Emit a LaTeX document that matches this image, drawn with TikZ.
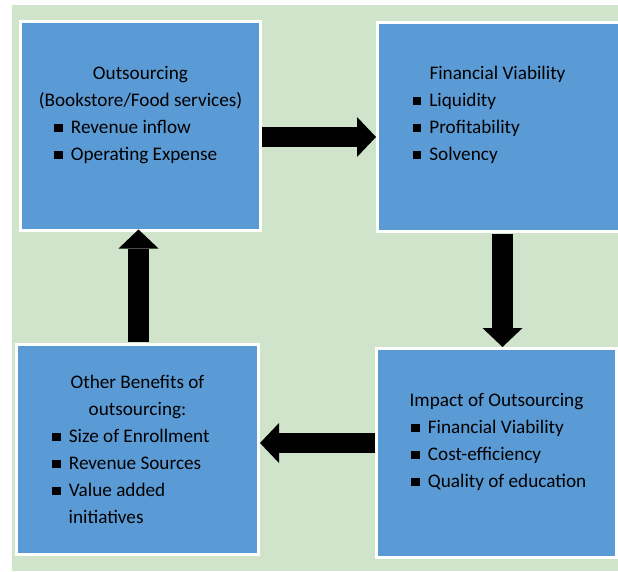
\documentclass[tikz,border=0pt]{standalone}
\usepackage{fontspec}
\setmainfont{Carlito}
\usepackage{xcolor}
\usetikzlibrary{arrows.meta}
\usetikzlibrary{math}

\definecolor{boxblue}{RGB}{91,155,213}
\definecolor{bggreen}{RGB}{208,228,203}
\newcommand{\sqbul}{\rule[1.3pt]{8.7pt}{8.7pt}\hspace{8pt}}

\begin{document}
\begin{tikzpicture}[x=1pt,y=-1pt,
box/.style={fill=boxblue, draw=white, line width=3pt, minimum width=240pt, minimum height=209pt, inner sep=0pt},
txt/.style={inner sep=0pt, font=\fontsize{19.2pt}{27pt}\selectfont},
flow/.style={line width=20.5pt, -{Triangle[width=40pt,length=19pt,line width=0pt]}}
]
\tikzmath{
\dy=27;
\ytop=79.5;
\ylow=388.5;
}

\useasboundingbox[fill=white] (0,0) rectangle (618,571);
\fill[bggreen] (12,5) rectangle (618,571);

% the four boxes
\node[box] (outs) at (140.5,126) {};
\node[box, minimum width=243pt] (fin) at (499,126.5) {};
\node[box] (imp) at (496.5,453) {};
\node[box, minimum width=242pt, minimum height=210pt] (ben) at (137.5,449.5) {};

% top left
\node[txt, anchor=base] (outs-t1) at (140.5,\ytop) {Outsourcing};
\node[txt, anchor=base] (outs-t2) at (140.5,\ytop+\dy) {(Bookstore/Food services)};
\foreach \i/\s in {2/Revenue inflow, 3/Operating Expense}{
\node[txt, anchor=base west] (outs-b\i) at (54,\ytop+\dy*\i) {\sqbul\s};
}

% top right
\node[txt, anchor=base] (fin-t1) at (497.5,\ytop) {Financial Viability};
\foreach \i/\s in {1/Liquidity, 2/Profitability, 3/Solvency}{
\node[txt, anchor=base west] (fin-b\i) at (412.5,\ytop+\dy*\i) {\sqbul\s};
}

% bottom right
\node[txt, anchor=base] (imp-t1) at (496.5,\ylow+18) {Impact of Outsourcing};
\foreach \i/\s in {1/Financial Viability, 2/Cost-efficiency, 3/Quality of education}{
\node[txt, anchor=base west] (imp-b\i) at (411,\ylow+18+\dy*\i) {\sqbul\s};
}

% bottom left
\node[txt, anchor=base] (ben-t1) at (137.5,\ylow) {Other Benefits of};
\node[txt, anchor=base] (ben-t2) at (137.5,\ylow+\dy) {outsourcing:};
\foreach \i/\s in {2/Size of Enrollment, 3/Revenue Sources, 4/Value added}{
\node[txt, anchor=base west] (ben-b\i) at (52,\ylow+\dy*\i) {\sqbul\s};
}
\node[txt, anchor=base west] (ben-b5) at (68.5,\ylow+\dy*5) {initiatives};

% arrows round the cycle
\coordinate (r0) at ([yshift=-11pt]outs.east);
\draw[flow] (r0) -- (r0 -| fin.west);
\coordinate (d0) at ([xshift=3.5pt]fin.south);
\draw[flow, shorten <=1.5pt] (d0) -- (d0 |- imp.north);
\coordinate (l0) at ([yshift=10pt]imp.west);
\draw[flow] (l0) -- (l0 -| ben.east);
\coordinate (u0) at ([xshift=1pt]ben.north);
\draw[flow, shorten <=1.5pt, shorten >=-2.5pt] (u0) -- (u0 |- outs.south);

\end{tikzpicture}
\end{document}
